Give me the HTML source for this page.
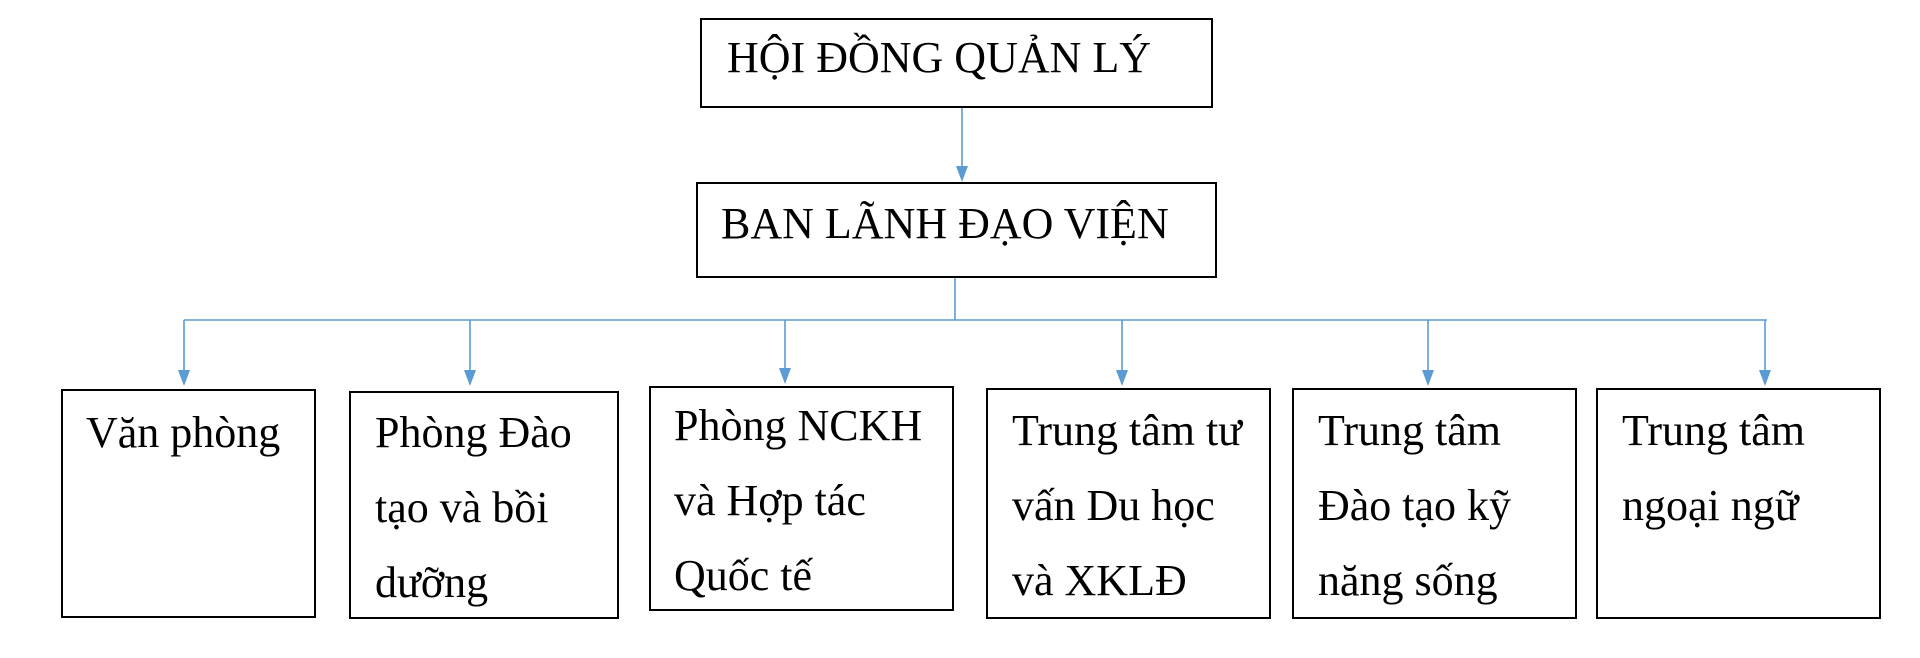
<!DOCTYPE html>
<html><head><meta charset="utf-8"><style>
body{margin:0;width:1920px;height:658px;background:#fff;position:relative;overflow:hidden;font-family:"Liberation Serif",serif;}
.b{position:absolute;border:2px solid #000;box-sizing:border-box;font-size:44px;color:#000;line-height:75px;padding-left:24px;white-space:nowrap;}
svg{position:absolute;left:0;top:0}
</style></head><body>
<svg width="1920" height="658">
<g stroke="#5b9bd5" stroke-width="1.6" fill="none">
<line x1="962" y1="107" x2="962" y2="170"/>
<line x1="955" y1="277" x2="955" y2="320"/>
<line x1="184" y1="320" x2="1767" y2="320"/>
<line x1="184" y1="320" x2="184" y2="372"/>
<line x1="470" y1="320" x2="470" y2="372"/>
<line x1="785" y1="320" x2="785" y2="370"/>
<line x1="1122" y1="320" x2="1122" y2="372"/>
<line x1="1428" y1="320" x2="1428" y2="372"/>
<line x1="1765" y1="320" x2="1765" y2="372"/>
</g>
<g fill="#5b9bd5">
<polygon points="956,166 968,166 962,182"/>
<polygon points="178,370 190,370 184,386"/>
<polygon points="464,370 476,370 470,386"/>
<polygon points="779,368 791,368 785,384"/>
<polygon points="1116,370 1128,370 1122,386"/>
<polygon points="1422,370 1434,370 1428,386"/>
<polygon points="1759,370 1771,370 1765,386"/>
</g>
</svg>
<div class="b" style="left:700px;top:18px;width:513px;height:90px;line-height:76px;padding-left:25px">HỘI ĐỒNG QUẢN LÝ</div>
<div class="b" style="left:696px;top:182px;width:521px;height:96px;line-height:80px;padding-left:23px">BAN LÃNH ĐẠO VIỆN</div>
<div class="b" style="left:61px;top:389px;width:255px;height:229px;padding-top:4px;padding-left:23px">Văn phòng</div>
<div class="b" style="left:349px;top:391px;width:270px;height:228px;padding-top:2px;padding-left:24px">Phòng Đào<br>tạo và bồi<br>dưỡng</div>
<div class="b" style="left:649px;top:386px;width:305px;height:225px;padding-top:0px;padding-left:23px">Phòng NCKH<br>và Hợp tác<br>Quốc tế</div>
<div class="b" style="left:986px;top:388px;width:285px;height:231px;padding-top:3px;padding-left:24px">Trung tâm tư<br>vấn Du học<br>và XKLĐ</div>
<div class="b" style="left:1292px;top:388px;width:285px;height:231px;padding-top:3px;padding-left:24px">Trung tâm<br>Đào tạo kỹ<br>năng sống</div>
<div class="b" style="left:1596px;top:388px;width:285px;height:231px;padding-top:3px;padding-left:24px">Trung tâm<br>ngoại ngữ</div>
</body></html>
